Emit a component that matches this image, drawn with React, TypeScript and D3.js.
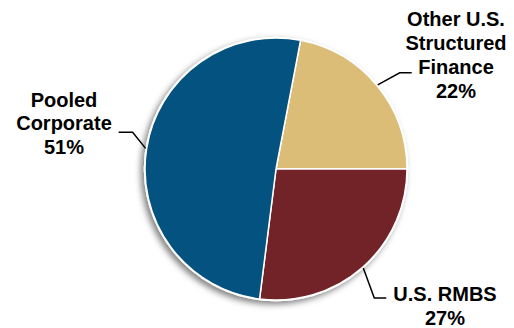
import React from "react";
import * as d3 from "d3";

const categories = ["Other U.S. Structured Finance", "U.S. RMBS", "Pooled Corporate"];
const values = [22, 27, 51];
const labelLines = [
  ["Other U.S.", "Structured", "Finance", "22%"],
  ["U.S. RMBS", "27%"],
  ["Pooled", "Corporate", "51%"],
];
const colors = ["#DCBD77", "#722327", "#03527F"];

const W = 514;
const H = 328;
const cx = 276;
const cy = 169;
const R = 131;

// label layout: text anchor x, first baseline y, elbow offsets from edge point
const layout = [
  { tx: 456, ty: 26, elbow: [22, -12], tail: 12 },
  { tx: 445, ty: 301, elbow: [11, 30], tail: 12 },
  { tx: 64, ty: 107, elbow: [-13, -16], tail: -14 },
];
const lineH = [24, 24, 23.3];

export default function App() {
  const total = d3.sum(values);
  const start = Math.PI / 2 - (values[0] / total) * 2 * Math.PI;
  const pie = d3
    .pie<number>()
    .sort(null)
    .value((d) => d)
    .startAngle(start)
    .endAngle(start + 2 * Math.PI);
  const arcs = pie(values);
  const arc = d3.arc<d3.PieArcDatum<number>>().innerRadius(0).outerRadius(R);
  const font = "'Liberation Sans', Arial, Helvetica, sans-serif";

  return (
    <svg width={W} height={H} style={{ position: "absolute", left: 0, top: 0 }}>
      <defs>
        <filter id="sh" x="-20%" y="-20%" width="140%" height="140%">
          <feDropShadow dx={-3} dy={3} stdDeviation={3} floodColor="#000" floodOpacity={0.5} />
        </filter>
      </defs>
      <rect width={W} height={H} fill="#fff" />
      <g transform={`translate(${cx},${cy})`}>
        <circle r={R + 1.2} fill="#fff" filter="url(#sh)" />
        {arcs.map((a, i) => (
          <path key={categories[i]} d={arc(a) || ""} fill={colors[i]} stroke="#fff" strokeWidth={1.5} strokeLinejoin="round" />
        ))}
      </g>
      {arcs.map((a, i) => {
        const mid = (a.startAngle + a.endAngle) / 2;
        const x0 = cx + (R + 1) * Math.sin(mid);
        const y0 = cy - (R + 1) * Math.cos(mid);
        const L = layout[i];
        const x1 = x0 + L.elbow[0];
        const y1 = y0 + L.elbow[1];
        const x2 = x1 + L.tail;
        return (
          <polyline
            key={"l" + i}
            points={`${x0},${y0} ${x1},${y1} ${x2},${y1}`}
            fill="none"
            stroke="#000"
            strokeWidth={1.5}
          />
        );
      })}
      {labelLines.map((lines, i) => (
        <text
          key={"t" + i}
          x={layout[i].tx}
          y={layout[i].ty}
          textAnchor="middle"
          fontFamily={font}
          fontWeight="bold"
          fontSize={20}
          fill="#000"
        >
          {lines.map((s, j) => (
            <tspan key={j} x={layout[i].tx} dy={j === 0 ? 0 : lineH[i]}>
              {s}
            </tspan>
          ))}
        </text>
      ))}
    </svg>
  );
}
